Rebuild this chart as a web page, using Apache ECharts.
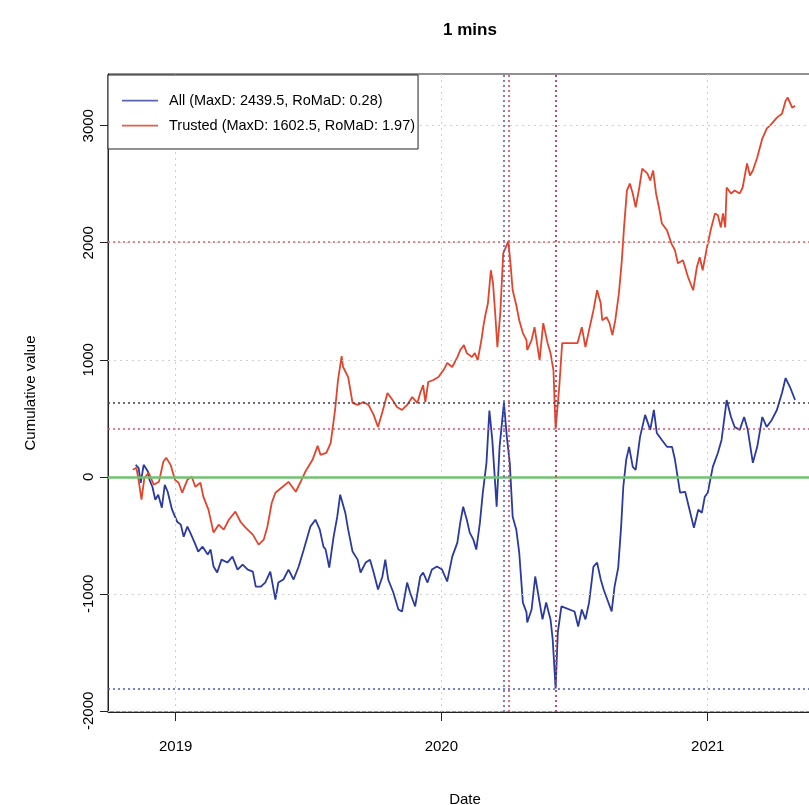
<!DOCTYPE html>
<html>
<head>
<meta charset="utf-8">
<script src="https://cdn.jsdelivr.net/npm/echarts@6/dist/echarts.min.js"></script>
<style>
  html, body { margin: 0; padding: 0; background: #fff; }
  #chart { width: 809px; height: 805px; }
</style>
</head>
<body>
<div id="chart"></div>
<script>
// 标题 / 图例文字
var chartTitle = '1 mins';
var allName = 'All (MaxD: 2439.5, RoMaD: 0.28)';
var trustedName = 'Trusted (MaxD: 1602.5, RoMaD: 1.97)';

// 坐标轴刻度
var yTicks = [-2000, -1000, 0, 1000, 2000, 3000];
var xTickYears = [2019, 2020, 2021];
var xRange = ['2018-09-30', '2021-06-07'];

// All 累计值 [日期, 值]
var allSeries = [
    ['2018-11-07', 102], ['2018-11-11', 77], ['2018-11-14', -51], ['2018-11-18', 102],
    ['2018-11-24', 43], ['2018-11-26', -26], ['2018-11-30', -85], ['2018-12-04', -196],
    ['2018-12-08', -153], ['2018-12-13', -264], ['2018-12-17', -68], ['2018-12-21', -128],
    ['2018-12-27', -281], ['2019-01-03', -384], ['2019-01-08', -409], ['2019-01-12', -512],
    ['2019-01-17', -426], ['2019-01-21', -477], ['2019-01-27', -563], ['2019-02-01', -639],
    ['2019-02-07', -597], ['2019-02-14', -665], ['2019-02-18', -622], ['2019-02-22', -767],
    ['2019-02-27', -818], ['2019-03-05', -708], ['2019-03-13', -733], ['2019-03-20', -682],
    ['2019-03-27', -793], ['2019-04-03', -750], ['2019-04-10', -793], ['2019-04-17', -810],
    ['2019-04-21', -938], ['2019-04-28', -938], ['2019-05-04', -904], ['2019-05-11', -810],
    ['2019-05-18', -1049], ['2019-05-22', -904], ['2019-05-29', -878], ['2019-06-05', -793],
    ['2019-06-12', -878], ['2019-06-19', -767], ['2019-06-26', -622], ['2019-07-05', -426],
    ['2019-07-12', -367], ['2019-07-18', -452], ['2019-07-23', -597], ['2019-07-26', -622],
    ['2019-07-31', -776], ['2019-08-06', -512], ['2019-08-11', -341], ['2019-08-15', -153],
    ['2019-08-22', -307], ['2019-08-26', -452], ['2019-09-01', -639], ['2019-09-08', -708],
    ['2019-09-12', -818], ['2019-09-19', -733], ['2019-09-25', -708], ['2019-09-30', -818],
    ['2019-10-06', -963], ['2019-10-12', -852], ['2019-10-16', -708], ['2019-10-20', -878],
    ['2019-10-27', -989], ['2019-11-03', -1134], ['2019-11-08', -1151], ['2019-11-15', -904],
    ['2019-11-19', -989], ['2019-11-26', -1108], ['2019-12-03', -852], ['2019-12-07', -818],
    ['2019-12-13', -904], ['2019-12-19', -793], ['2019-12-26', -767], ['2020-01-02', -793],
    ['2020-01-09', -895], ['2020-01-16', -682], ['2020-01-23', -563], ['2020-01-27', -392],
    ['2020-01-31', -256], ['2020-02-05', -367], ['2020-02-09', -477], ['2020-02-14', -537],
    ['2020-02-18', -622], ['2020-02-23', -392], ['2020-02-27', -136], ['2020-03-03', 119],
    ['2020-03-07', 565], ['2020-03-11', 315], ['2020-03-17', -256], ['2020-03-21', 256],
    ['2020-03-27', 631], ['2020-03-31', 341], ['2020-04-04', 119], ['2020-04-08', -341],
    ['2020-04-13', -452], ['2020-04-17', -648], ['2020-04-22', -1074], ['2020-04-27', -1159],
    ['2020-04-28', -1245], ['2020-05-04', -1134], ['2020-05-09', -852], ['2020-05-15', -1074],
    ['2020-05-19', -1219], ['2020-05-24', -1074], ['2020-05-30', -1219], ['2020-06-02', -1390],
    ['2020-06-06', -1808.5], ['2020-06-09', -1330], ['2020-06-14', -1108], ['2020-07-02', -1151],
    ['2020-07-07', -1279], ['2020-07-12', -1134], ['2020-07-17', -1219], ['2020-07-22', -1074],
    ['2020-07-28', -767], ['2020-08-02', -733], ['2020-08-07', -878], ['2020-08-11', -963],
    ['2020-08-16', -1049], ['2020-08-22', -1151], ['2020-08-26', -938], ['2020-08-31', -776],
    ['2020-09-04', -426], ['2020-09-07', -85], ['2020-09-11', 145], ['2020-09-15', 256],
    ['2020-09-20', 85], ['2020-09-24', 60], ['2020-09-30', 341], ['2020-10-07', 529],
    ['2020-10-14', 401], ['2020-10-19', 571], ['2020-10-23', 375], ['2020-10-30', 315],
    ['2020-11-06', 256], ['2020-11-13', 256], ['2020-11-17', 145], ['2020-11-24', -136],
    ['2020-12-01', -128], ['2020-12-06', -256], ['2020-12-13', -435], ['2020-12-19', -281],
    ['2020-12-24', -307], ['2020-12-28', -170], ['2021-01-01', -136], ['2021-01-08', 85],
    ['2021-01-15', 205], ['2021-01-20', 315], ['2021-01-27', 656], ['2021-02-02', 511],
    ['2021-02-07', 426], ['2021-02-14', 401], ['2021-02-20', 511], ['2021-02-25', 401],
    ['2021-03-04', 119], ['2021-03-10', 256], ['2021-03-17', 511], ['2021-03-23', 426],
    ['2021-03-30', 486], ['2021-04-06', 571], ['2021-04-13', 716], ['2021-04-18', 844],
    ['2021-04-24', 767], ['2021-05-01', 656]
];

// Trusted 累计值 [日期, 值]
var trustedSeries = [
    ['2018-11-03', 60], ['2018-11-08', 77], ['2018-11-11', -26], ['2018-11-15', -196],
    ['2018-11-19', -9], ['2018-11-25', 34], ['2018-12-02', -68], ['2018-12-09', -43],
    ['2018-12-15', 128], ['2018-12-19', 162], ['2018-12-25', 102], ['2018-12-31', -26],
    ['2019-01-05', -51], ['2019-01-10', -136], ['2019-01-17', -26], ['2019-01-23', 0],
    ['2019-01-28', -85], ['2019-02-04', -51], ['2019-02-08', -170], ['2019-02-15', -281],
    ['2019-02-22', -477], ['2019-03-01', -409], ['2019-03-08', -452], ['2019-03-15', -367],
    ['2019-03-24', -298], ['2019-03-31', -384], ['2019-04-07', -435], ['2019-04-17', -494],
    ['2019-04-25', -580], ['2019-05-02', -537], ['2019-05-07', -426], ['2019-05-13', -222],
    ['2019-05-18', -136], ['2019-05-28', -85], ['2019-06-05', -43], ['2019-06-15', -128],
    ['2019-06-21', -51], ['2019-06-28', 43], ['2019-07-08', 145], ['2019-07-15', 264],
    ['2019-07-19', 188], ['2019-07-27', 205], ['2019-08-02', 290], ['2019-08-08', 571],
    ['2019-08-12', 827], ['2019-08-17', 1032], ['2019-08-19', 938], ['2019-08-26', 852],
    ['2019-09-01', 631], ['2019-09-08', 614], ['2019-09-16', 639], ['2019-09-23', 614],
    ['2019-09-30', 529], ['2019-10-06', 426], ['2019-10-12', 554], ['2019-10-19', 716],
    ['2019-10-26', 656], ['2019-11-01', 597], ['2019-11-08', 571], ['2019-11-15', 614],
    ['2019-11-22', 682], ['2019-11-29', 631], ['2019-12-03', 716], ['2019-12-07', 784],
    ['2019-12-10', 639], ['2019-12-14', 810], ['2019-12-21', 827], ['2019-12-28', 852],
    ['2020-01-04', 912], ['2020-01-09', 972], ['2020-01-16', 938], ['2020-01-23', 1023],
    ['2020-01-27', 1083], ['2020-02-01', 1125], ['2020-02-05', 1057], ['2020-02-12', 1023],
    ['2020-02-16', 1057], ['2020-02-20', 997], ['2020-02-25', 1168], ['2020-02-28', 1296],
    ['2020-03-02', 1398], ['2020-03-05', 1483], ['2020-03-09', 1765], ['2020-03-12', 1654],
    ['2020-03-15', 1398], ['2020-03-18', 1108], ['2020-03-22', 1398], ['2020-03-26', 1910],
    ['2020-04-02', 2012.5], ['2020-04-05', 1824], ['2020-04-08', 1594], ['2020-04-13', 1466],
    ['2020-04-17', 1338], ['2020-04-22', 1228], ['2020-04-27', 1168], ['2020-04-28', 1083],
    ['2020-05-04', 1168], ['2020-05-08', 1279], ['2020-05-15', 997], ['2020-05-20', 1313],
    ['2020-05-26', 1142], ['2020-05-30', 1057], ['2020-06-03', 912], ['2020-06-05', 571],
    ['2020-06-06', 410], ['2020-06-11', 767], ['2020-06-15', 1142], ['2020-07-06', 1142],
    ['2020-07-12', 1279], ['2020-07-17', 1108], ['2020-07-22', 1253], ['2020-07-28', 1424],
    ['2020-08-02', 1594], ['2020-08-07', 1483], ['2020-08-09', 1338], ['2020-08-15', 1364],
    ['2020-08-19', 1313], ['2020-08-23', 1211], ['2020-08-27', 1338], ['2020-09-01', 1569],
    ['2020-09-05', 1850], ['2020-09-08', 2131], ['2020-09-12', 2447], ['2020-09-16', 2506],
    ['2020-09-20', 2421], ['2020-09-24', 2302], ['2020-09-29', 2472], ['2020-10-03', 2634],
    ['2020-10-10', 2592], ['2020-10-14', 2532], ['2020-10-18', 2617], ['2020-10-22', 2421],
    ['2020-10-26', 2302], ['2020-10-30', 2165], ['2020-11-06', 2106], ['2020-11-12', 1995],
    ['2020-11-17', 1935], ['2020-11-21', 1824], ['2020-11-28', 1850], ['2020-12-05', 1705],
    ['2020-12-12', 1594], ['2020-12-17', 1790], ['2020-12-21', 1876], ['2020-12-25', 1765],
    ['2020-12-31', 1961], ['2021-01-05', 2106], ['2021-01-11', 2251], ['2021-01-15', 2234],
    ['2021-01-19', 2131], ['2021-01-22', 2251], ['2021-01-25', 2131], ['2021-01-27', 2472],
    ['2021-02-02', 2421], ['2021-02-07', 2447], ['2021-02-14', 2421], ['2021-02-18', 2472],
    ['2021-02-24', 2677], ['2021-02-28', 2575], ['2021-03-04', 2617], ['2021-03-10', 2728],
    ['2021-03-17', 2890], ['2021-03-23', 2975], ['2021-03-30', 3018], ['2021-04-06', 3069],
    ['2021-04-13', 3103], ['2021-04-18', 3214], ['2021-04-21', 3240], ['2021-04-27', 3154],
    ['2021-05-01', 3171]
];

var font = 'Liberation Sans, Arial, Helvetica, sans-serif';
// 图例线条图标 (上下两个极小点撑开高度)
var lineIcon = 'path://M0,0h0.05v0.05h-0.05z M0,6.2h36v1.7h-36z M0,13.95h0.05v0.05h-0.05z';

// 日期字符串 -> 时间戳 (UTC)
function toTime(s) { return new Date(s + 'T00:00:00Z').getTime(); }
function toPoints(list) {
    return list.map(function (d) { return [toTime(d[0]), d[1]]; });
}

// 最大回撤: 返回峰值点和谷值点
function maxDrawdown(list) {
    var peak = list[0], best = { peak: list[0], trough: list[0], dd: 0 };
    for (var i = 1; i < list.length; i++) {
        if (list[i][1] > peak[1]) peak = list[i];
        var dd = peak[1] - list[i][1];
        if (dd > best.dd) best = { peak: peak, trough: list[i], dd: dd };
    }
    return best;
}

function refLines(dd, hPeakColor, hTroughColor, vColor) {
    return [
        { yAxis: dd.peak[1], lineStyle: { color: hPeakColor } },
        { yAxis: dd.trough[1], lineStyle: { color: hTroughColor } },
        { xAxis: dd.peak[0], lineStyle: { color: vColor } },
        { xAxis: dd.trough[0], lineStyle: { color: vColor } }
    ];
}

var allPoints = toPoints(allSeries);
var trustedPoints = toPoints(trustedSeries);
var allDD = maxDrawdown(allPoints);
var trustedDD = maxDrawdown(trustedPoints);

var xTickTimes = xTickYears.map(function (y) { return Date.UTC(y, 0, 1); });

var gridLines = yTicks.map(function (v) { return { yAxis: v }; })
    .concat(xTickTimes.map(function (t) { return { xAxis: t }; }));

var myChart = echarts.init(document.getElementById('chart'));
var option = {
    animation: false,
    backgroundColor: '#fff',
    title: {
        text: chartTitle,
        left: 465,
        top: 17,
        textAlign: 'center',
        textStyle: { fontFamily: font, fontSize: 17, fontWeight: 'bold', color: '#000' }
    },
    legend: {
        data: [
            { name: allName, icon: lineIcon },
            { name: trustedName, icon: lineIcon }
        ],
        orient: 'vertical',
        left: 108,
        top: 75,
        padding: [18, 3, 16, 14],
        itemGap: 10,
        itemWidth: 36,
        itemHeight: 14,
        backgroundColor: '#fff',
        borderColor: '#222',
        borderWidth: 1,
        z: 10,
        textStyle: { fontFamily: font, fontSize: 14.5, color: '#000', padding: [0, 0, 0, 6] }
    },
    grid: {
        left: 108,
        right: -13,
        top: 74,
        bottom: 93,
        outerBoundsMode: 'none',
        show: true,
        borderColor: '#222',
        borderWidth: 1
    },
    xAxis: {
        type: 'value',
        min: toTime(xRange[0]),
        max: toTime(xRange[1]),
        name: 'Date',
        nameLocation: 'middle',
        nameGap: 80,
        nameTextStyle: { fontFamily: font, fontSize: 15, color: '#000' },
        axisLine: { show: true, onZero: false, lineStyle: { color: '#222', width: 1 } },
        axisTick: { show: true, customValues: xTickTimes, length: 9, lineStyle: { color: '#222' } },
        axisLabel: {
            customValues: xTickTimes,
            margin: 27,
            fontFamily: font,
            fontSize: 15,
            color: '#000',
            formatter: function (v) { return String(new Date(v).getUTCFullYear()); }
        },
        splitLine: { show: false }
    },
    yAxis: {
        type: 'value',
        min: -2010,
        max: 3442,
        name: 'Cumulative value',
        nameLocation: 'middle',
        nameGap: 70,
        nameTextStyle: { fontFamily: font, fontSize: 15, color: '#000' },
        axisLine: { show: true, onZero: false, lineStyle: { color: '#222', width: 1 } },
        axisTick: { show: true, customValues: yTicks, length: 8, lineStyle: { color: '#222' } },
        axisLabel: {
            customValues: yTicks,
            rotate: 90,
            margin: 12,
            fontFamily: font,
            fontSize: 15,
            color: '#000',
            formatter: function (v) { return String(v); }
        },
        splitLine: { show: false }
    },
    series: [
        {
            // 背景网格 + 零线
            name: 'grid',
            type: 'line',
            data: [],
            silent: true,
            z: 1,
            markLine: {
                silent: true,
                symbol: 'none',
                label: { show: false },
                lineStyle: { color: '#cfcfcf', type: [2, 4], width: 1 },
                data: gridLines.concat([
                    { yAxis: 0, lineStyle: { color: '#72c070', type: 'solid', width: 2.5 } }
                ])
            }
        },
        {
            name: allName,
            type: 'line',
            data: allPoints,
            symbol: 'none',
            z: 3,
            lineStyle: { color: '#2a3a9e', width: 1.8 },
            itemStyle: { color: '#5a62b4' }
        },
        {
            name: trustedName,
            type: 'line',
            data: trustedPoints,
            symbol: 'none',
            z: 4,
            lineStyle: { color: '#e2452c', width: 1.8 },
            itemStyle: { color: '#e2604a' }
        },
        {
            // 最大回撤参考线
            name: 'refs',
            type: 'line',
            data: [],
            silent: true,
            z: 5,
            markLine: {
                silent: true,
                symbol: 'none',
                label: { show: false },
                lineStyle: { type: [2, 3], width: 1.5 },
                data: refLines(allDD, '#3c3c55', '#4a58c8', '#4a58c8')
                    .concat(refLines(trustedDD, '#e56060', '#e05070', '#d83a50'))
            }
        }
    ]
};
myChart.setOption(option);
</script>
</body>
</html>
